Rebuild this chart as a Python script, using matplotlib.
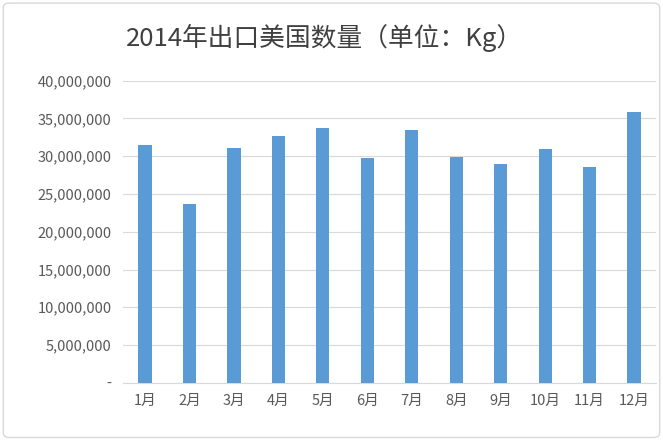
import matplotlib
matplotlib.use("Agg")
import matplotlib.pyplot as plt
from matplotlib.ticker import FuncFormatter
from matplotlib.patches import FancyBboxPatch

plt.rcParams['font.family'] = ['Noto Sans CJK SC', 'DejaVu Sans']

months = ['1月','2月','3月','4月','5月','6月','7月','8月','9月','10月','11月','12月']
values = [31.5e6, 23.7e6, 31.1e6, 32.7e6, 33.8e6, 29.8e6, 33.5e6, 29.9e6, 29.0e6, 31.0e6, 28.6e6, 35.8e6]

fig = plt.figure(figsize=(6.63, 4.41), dpi=100)
fig.patches.append(FancyBboxPatch((0.005, 0.008), 0.99, 0.985, boxstyle="round,pad=0,rounding_size=0.01",
                                  transform=fig.transFigure, fill=False, edgecolor='#d9d9d9', lw=1))
ax = fig.add_axes([0.185, 0.132, 0.805, 0.685])
x = range(len(months))
ax.bar(x, values, width=0.3, color='#5b9bd5', zorder=3)
ax.set_ylim(0, 40e6)
ax.set_xlim(-0.5, 11.5)
ax.set_yticks([i*5e6 for i in range(9)])
ax.yaxis.set_major_formatter(FuncFormatter(lambda v, p: '-' if v == 0 else f'{int(v):,}'))
ax.set_xticks(list(x))
ax.set_xticklabels(months)
ax.grid(axis='y', color='#d9d9d9', lw=0.8, zorder=0)
for s in ['top', 'right', 'left']:
    ax.spines[s].set_visible(False)
ax.spines['bottom'].set_color('#d9d9d9')
ax.tick_params(length=0, labelsize=10.5, colors='#595959', pad=8)
fig.text(0.49, 0.895, '2014年出口美国数量（单位：Kg）', ha='center', fontsize=18.5, color='#404040')
fig.savefig('out.png', dpi=100)
